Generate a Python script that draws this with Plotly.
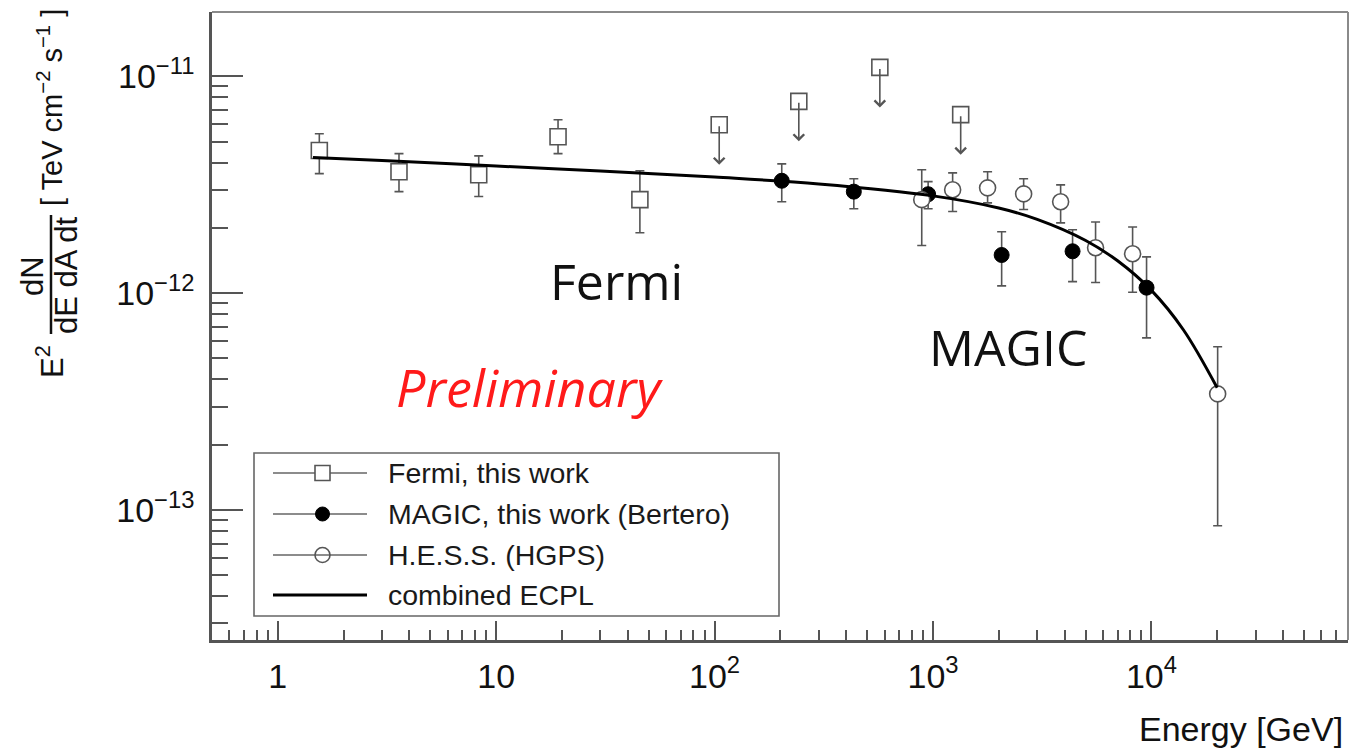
import math
import plotly.graph_objects as go

# ---------------- data (energy in GeV, E^2 dN/dE in TeV cm^-2 s^-1) ----------------
fermi_e = [1.55, 3.59, 8.32, 19.2, 45.5]
fermi_f = [4.55e-12, 3.63e-12, 3.52e-12, 5.27e-12, 2.70e-12]
fermi_hi = [5.44e-12, 4.40e-12, 4.30e-12, 6.31e-12, 3.67e-12]
fermi_lo = [3.56e-12, 2.94e-12, 2.79e-12, 4.40e-12, 1.90e-12]

fermi_ul_e = [105, 243, 571, 1339]
fermi_ul_f = [5.98e-12, 7.67e-12, 1.10e-11, 6.66e-12]

magic_e = [203, 434, 950, 2062, 4355, 9500]
magic_f = [3.30e-12, 2.94e-12, 2.86e-12, 1.50e-12, 1.56e-12, 1.06e-12]
magic_hi = [3.95e-12, 3.37e-12, 3.27e-12, 1.92e-12, 1.96e-12, 1.47e-12]
magic_lo = [2.64e-12, 2.45e-12, 2.45e-12, 1.08e-12, 1.13e-12, 6.22e-13]

hess_e = [888, 1230, 1778, 2600, 3840, 5550, 8200, 20100]
hess_f = [2.70e-12, 3.00e-12, 3.06e-12, 2.87e-12, 2.64e-12, 1.62e-12, 1.52e-12, 3.43e-13]
hess_hi = [3.71e-12, 3.59e-12, 3.63e-12, 3.37e-12, 3.16e-12, 2.13e-12, 2.02e-12, 5.66e-13]
hess_lo = [1.66e-12, 2.38e-12, 2.61e-12, 2.43e-12, 2.11e-12, 1.12e-12, 1.01e-12, 8.45e-14]

# combined ECPL model curve
ecpl_e = [1.45, 3, 10, 30, 100, 300, 1000, 2000, 3000, 5000, 7000, 10000, 14000, 20000]
ecpl_f = [4.23e-12, 4.09e-12, 3.86e-12, 3.66e-12, 3.43e-12, 3.19e-12, 2.81e-12,
          2.47e-12, 2.19e-12, 1.75e-12, 1.41e-12, 1.03e-12, 6.78e-13, 3.66e-13]

x_tickvals = [1, 10, 100, 1000, 10000]
x_ticktext = ["1", "10", "10<sup>2</sup>", "10<sup>3</sup>", "10<sup>4</sup>"]
y_tickvals = [1e-13, 1e-12, 1e-11]
y_ticktext = ["10<sup>\u221213</sup>", "10<sup>\u221212</sup>", "10<sup>\u221211</sup>"]

legend_labels = ["Fermi, this work", "MAGIC, this work (Bertero)",
                 "H.E.S.S. (HGPS)", "combined ECPL"]

# ---------------- geometry ----------------
W, H = 1350, 751
ML, MR, MT, MB = 212, 2, 12, 111
PW, PH = W - ML - MR, H - MT - MB

def px(x):
    return (x - ML) / PW

def py(y):
    return (H - MB - y) / PH

FONT = "Liberation Sans, Arial, Helvetica, sans-serif"
AXC = "#555555"
ERRC = "#555555"


def err(vals, hi, lo):
    up = [h - v for v, h in zip(vals, hi)]
    dn = [v - l for v, l in zip(vals, lo)]
    return up, dn


fig = go.Figure()

up, dn = err(fermi_f, fermi_hi, fermi_lo)
fig.add_trace(go.Scatter(
    x=fermi_e, y=fermi_f, mode="markers",
    marker=dict(symbol="square", size=16, color="white", line=dict(color=ERRC, width=1.6)),
    error_y=dict(type="data", array=up, arrayminus=dn, color=ERRC, thickness=1.6, width=4.5),
))

fig.add_trace(go.Scatter(
    x=fermi_ul_e, y=fermi_ul_f, mode="markers",
    marker=dict(symbol="square", size=16, color="rgba(0,0,0,0)", line=dict(color=ERRC, width=1.6)),
))

up, dn = err(magic_f, magic_hi, magic_lo)
fig.add_trace(go.Scatter(
    x=magic_e, y=magic_f, mode="markers",
    marker=dict(symbol="circle", size=15, color="black", line=dict(color="black", width=1)),
    error_y=dict(type="data", array=up, arrayminus=dn, color=ERRC, thickness=1.6, width=4.5),
))

up, dn = err(hess_f, hess_hi, hess_lo)
fig.add_trace(go.Scatter(
    x=hess_e, y=hess_f, mode="markers",
    marker=dict(symbol="circle", size=16, color="white", line=dict(color=ERRC, width=1.6)),
    error_y=dict(type="data", array=up, arrayminus=dn, color=ERRC, thickness=1.6, width=4.5),
))

fig.add_trace(go.Scatter(
    x=ecpl_e, y=ecpl_f, mode="lines", line=dict(color="black", width=3, shape="spline"),
))

annotations = []
# upper-limit arrows hanging from the Fermi squares (log axes take log10 positions)
for e, f in zip(fermi_ul_e, fermi_ul_f):
    annotations.append(dict(
        x=math.log10(e), y=math.log10(f), xref="x", yref="y", text="", showarrow=True,
        ax=0, ay=-40, yshift=-40, arrowhead=4, arrowsize=1.3, arrowwidth=1.6,
        arrowcolor=ERRC,
    ))

# free text labels
annotations += [
    dict(x=px(616), y=py(281), xref="paper", yref="paper", text="Fermi", showarrow=False,
         font=dict(family="Open Sans, sans-serif", size=50, color="#111111"),
         xanchor="center", yanchor="middle"),
    dict(x=px(1008), y=py(347), xref="paper", yref="paper", text="MAGIC", showarrow=False,
         font=dict(family="Open Sans, sans-serif", size=50, color="#111111"),
         xanchor="center", yanchor="middle"),
    dict(x=px(529), y=py(386), xref="paper", yref="paper", text="<i>Preliminary</i>",
         showarrow=False, font=dict(family="Open Sans, sans-serif", size=52, color="#ff1a1a"),
         xanchor="center", yanchor="middle"),
    dict(x=px(1345), y=py(729), xref="paper", yref="paper", text="Energy [GeV]",
         showarrow=False, font=dict(family=FONT, size=34, color="#111111"),
         xanchor="right", yanchor="middle"),
]

# y-axis title assembled from rotated pieces with a fraction bar
ytitle = [
    ("E<sup>2</sup>", 50, 362, 31),
    ("dN", 32, 276, 31),
    ("dE dA dt", 66, 275, 31),
    ("[ TeV cm<sup>\u22122</sup> s<sup>\u22121</sup> ]", 50, 108, 29),
]
for txt, x, y, fs in ytitle:
    annotations.append(dict(
        x=px(x), y=py(y), xref="paper", yref="paper", text=txt, showarrow=False,
        textangle=-90, font=dict(family=FONT, size=fs, color="#111111"),
        xanchor="center", yanchor="middle",
    ))

shapes = [
    # fraction bar
    dict(type="line", xref="paper", yref="paper", x0=px(51), x1=px(51), y0=py(215), y1=py(334),
         line=dict(color="#111111", width=2.5)),
    # top and right frame
    dict(type="line", xref="paper", yref="paper", x0=0, x1=1, y0=1, y1=1,
         line=dict(color="#8a8a8a", width=2)),
    dict(type="line", xref="paper", yref="paper", x0=1, x1=1, y0=0, y1=1,
         line=dict(color="#8a8a8a", width=2)),
    # legend frame
    dict(type="rect", xref="paper", yref="paper", x0=px(254), x1=px(779), y0=py(616), y1=py(453),
         line=dict(color="#666666", width=1.6), fillcolor="white", layer="above"),
]

# legend rows
rows_y = [473, 514, 555, 595]
for i, (label, ry) in enumerate(zip(legend_labels, rows_y)):
    lc = "#8c8c8c" if i < 3 else "black"
    lw = 2 if i < 3 else 3
    shapes.append(dict(type="line", xref="paper", yref="paper", x0=px(273), x1=px(367),
                       y0=py(ry), y1=py(ry), line=dict(color=lc, width=lw), layer="above"))
    if i == 0:
        shapes.append(dict(type="rect", xref="paper", yref="paper",
                           x0=px(315), x1=px(330), y0=py(ry + 7.5), y1=py(ry - 7.5),
                           line=dict(color=ERRC, width=1.6), fillcolor="white", layer="above"))
    elif i == 1:
        shapes.append(dict(type="circle", xref="paper", yref="paper",
                           x0=px(315.5), x1=px(329.5), y0=py(ry + 7), y1=py(ry - 7),
                           line=dict(color="black", width=1), fillcolor="black", layer="above"))
    elif i == 2:
        shapes.append(dict(type="circle", xref="paper", yref="paper",
                           x0=px(315), x1=px(330), y0=py(ry + 7.5), y1=py(ry - 7.5),
                           line=dict(color=ERRC, width=1.6), fillcolor="rgba(0,0,0,0)", layer="above"))
    annotations.append(dict(
        x=px(386), y=py(ry), xref="paper", yref="paper", text=label, showarrow=False,
        font=dict(family=FONT, size=28.5, color="#1a1a1a"), xanchor="left", yanchor="middle",
    ))

x_minor = [m * 10.0 ** k for k in range(-1, 5) for m in range(2, 10)]
y_minor = [m * 10.0 ** k for k in range(-14, -10) for m in range(2, 10)]

fig.update_layout(
    width=W, height=H,
    margin=dict(l=ML, r=MR, t=MT, b=MB, pad=0),
    paper_bgcolor="white", plot_bgcolor="white",
    showlegend=False,
    annotations=annotations, shapes=shapes,
    xaxis=dict(
        type="log", range=[-0.301, 4.9], showgrid=False, zeroline=False,
        showline=True, linecolor=AXC, linewidth=2.5, mirror=False,
        tickmode="array", tickvals=x_tickvals, ticktext=x_ticktext,
        ticks="inside", ticklen=19, tickwidth=2, tickcolor=AXC,
        tickfont=dict(family=FONT, size=34, color="#111111"),
        ticklabelstandoff=4,
        minor=dict(tickmode="array", tickvals=x_minor, ticks="inside", ticklen=10,
                   tickwidth=2, tickcolor=AXC, showgrid=False),
    ),
    yaxis=dict(
        type="log", range=[-13.6, -10.703], showgrid=False, zeroline=False,
        showline=True, linecolor=AXC, linewidth=2.5, mirror=False,
        tickmode="array", tickvals=y_tickvals, ticktext=y_ticktext,
        ticks="inside", ticklen=31, tickwidth=2, tickcolor=AXC,
        tickfont=dict(family=FONT, size=34, color="#111111"),
        ticklabelstandoff=8,
        minor=dict(tickmode="array", tickvals=y_minor, ticks="inside", ticklen=16,
                   tickwidth=2, tickcolor=AXC, showgrid=False),
    ),
)

fig.write_html("out.html")
